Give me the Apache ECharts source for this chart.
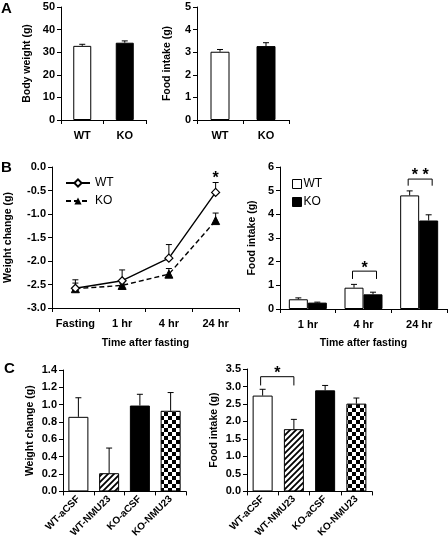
<!DOCTYPE html>
<html><head><meta charset="utf-8">
<script src="https://cdn.jsdelivr.net/npm/echarts@6/dist/echarts.min.js"></script>
<style>html,body{margin:0;padding:0;background:#fff}#c{width:448px;height:540px}</style>
</head><body><div id="c"></div>
<script>
// ---------- data ----------
const catA = ['WT', 'KO'];
const bodyWeight = [32.8, 34.2];
const bodyWeightErr = [0.7, 0.8];
const foodA = [3.02, 3.27];
const foodAErr = [0.1, 0.15];

const catBLine = ['Fasting', '1 hr', '4 hr', '24 hr'];
const wtChange = [-2.58, -2.42, -1.94, -0.54];
const wtChangeErr = [0.18, 0.23, 0.29, 0.21];
const koChange = [-2.59, -2.52, -2.28, -1.14];
const koChangeErr = [0.12, 0.05, 0.12, 0.16];
const sigBLine = [[3, -0.19, '*']];

const catBBar = ['1 hr', '4 hr', '24 hr'];
const wtFood = [0.41, 0.90, 4.80];
const wtFoodErr = [0.06, 0.14, 0.19];
const koFood = [0.27, 0.62, 3.74];
const koFoodErr = [0.02, 0.09, 0.24];
const sigBBar = [[1, 1.60, 1.27, '*'], [2, 5.49, 5.21, '* *']];

const catC = ['WT-aCSF', 'WT-NMU23', 'KO-aCSF', 'KO-NMU23'];
const weightC = [0.86, 0.21, 0.99, 0.93];
const weightCErr = [0.22, 0.29, 0.13, 0.21];
const foodC = [2.74, 1.78, 2.89, 2.51];
const foodCErr = [0.18, 0.28, 0.14, 0.16];
const sigC = [[0, 1, 3.28, 3.03, '*']];

// ---------- styles ----------
const FONT = '"Liberation Sans", Arial, sans-serif';
const BLACK = '#000';

function hatchPattern() {
  const c = document.createElement('canvas'); c.width = 6; c.height = 6;
  const g = c.getContext('2d');
  g.fillStyle = '#fff'; g.fillRect(0, 0, 6, 6);
  g.strokeStyle = '#000'; g.lineWidth = 1.8;
  g.beginPath();
  g.moveTo(-1, 7); g.lineTo(7, -1);
  g.moveTo(-4, 4); g.lineTo(4, -4);
  g.moveTo(2, 10); g.lineTo(10, 2);
  g.stroke();
  return {image: c, repeat: 'repeat'};
}
function checkPattern() {
  const c = document.createElement('canvas'); c.width = 8; c.height = 8;
  const g = c.getContext('2d');
  g.fillStyle = '#fff'; g.fillRect(0, 0, 8, 8);
  g.fillStyle = '#000'; g.fillRect(0, 0, 4, 4); g.fillRect(4, 4, 4, 4);
  return {image: c, repeat: 'repeat'};
}
const fills4 = ['#fff', hatchPattern(), '#000', checkPattern()];

const chart = echarts.init(document.getElementById('c'), null, {renderer: 'canvas'});

const axisLineS = {show: true, onZero: false, lineStyle: {color: BLACK, width: 1}};
const tickS = {show: true, length: 4, lineStyle: {color: BLACK, width: 1}};
const lblS = {color: BLACK, fontFamily: FONT, fontWeight: 'bold', fontSize: 11};
const nameS = {color: BLACK, fontFamily: FONT, fontWeight: 'bold', fontSize: 10.5};

function xCat(grid, data, extra) {
  return Object.assign({
    type: 'category', gridIndex: grid, data: data,
    axisLine: axisLineS, axisTick: tickS,
    axisLabel: Object.assign({}, lblS, {margin: 10, interval: 0}),
    splitLine: {show: false}
  }, extra || {});
}
function yVal(grid, min, max, interval, name, gap, dec) {
  return {
    type: 'value', gridIndex: grid, min: min, max: max, interval: interval,
    name: name, nameLocation: 'middle', nameGap: gap, nameRotate: 90, nameTextStyle: nameS,
    axisLine: axisLineS, axisTick: tickS,
    axisLabel: Object.assign({}, lblS, {margin: 6, formatter: v => v.toFixed(dec)}),
    splitLine: {show: false}
  };
}

function errSeries(xi, vals, errs, offset) {
  return {
    type: 'custom', xAxisIndex: xi, yAxisIndex: xi, z: 3, silent: true,
    data: vals.map((v, i) => [i, v, errs[i]]),
    renderItem: function (params, api) {
      const p0 = api.coord([api.value(0), api.value(1)]);
      const p1 = api.coord([api.value(0), api.value(1) + api.value(2)]);
      const cx = p0[0] + (offset || 0);
      return {type: 'group', children: [
        {type: 'line', shape: {x1: cx, y1: p0[1], x2: cx, y2: p1[1]}, style: {stroke: BLACK, lineWidth: 1}},
        {type: 'line', shape: {x1: cx - 3, y1: p1[1], x2: cx + 3, y2: p1[1]}, style: {stroke: BLACK, lineWidth: 1}}
      ]};
    }
  };
}
function starText(x, y, t) {
  return {type: 'text', style: {text: t, x: x, y: y, align: 'center', verticalAlign: 'middle',
    fontSize: 16, fontWeight: 'bold', fontFamily: FONT, fill: BLACK}};
}
function bracketShape(x1, x2, yTop, yBot, t) {
  return [
    {type: 'polyline', shape: {points: [[x1, yBot], [x1, yTop], [x2, yTop], [x2, yBot]]},
      style: {stroke: BLACK, lineWidth: 1, fill: null}},
    starText((x1 + x2) / 2, yTop - 3, t)
  ];
}

const option = {
  animation: false,
  backgroundColor: '#fff',
  textStyle: {fontFamily: FONT},
  grid: [
    {left: 61, top: 7, width: 85, height: 113},
    {left: 197, top: 7, width: 92, height: 113},
    {left: 52, top: 167, width: 187, height: 141},
    {left: 280, top: 167, width: 167, height: 142},
    {left: 63, top: 370, width: 123, height: 122},
    {left: 247, top: 369, width: 125, height: 126}
  ],
  xAxis: [
    xCat(0, catA),
    xCat(1, catA),
    xCat(2, catBLine, {name: 'Time after fasting', nameLocation: 'middle', nameGap: 30, nameTextStyle: nameS}),
    xCat(3, catBBar, {name: 'Time after fasting', nameLocation: 'middle', nameGap: 29, nameTextStyle: nameS}),
    xCat(4, catC, {axisLabel: Object.assign({}, lblS, {fontSize: 10, rotate: 45, margin: 6, interval: 0})}),
    xCat(5, catC, {axisLabel: Object.assign({}, lblS, {fontSize: 10, rotate: 45, margin: 6, interval: 0})})
  ],
  yAxis: [
    yVal(0, 0, 50, 10, 'Body weight (g)', 28, 0),
    yVal(1, 0, 5, 1, 'Food intake (g)', 24, 0),
    yVal(2, -3, 0, 0.5, 'Weight change (g)', 38, 1),
    yVal(3, 0, 6, 1, 'Food intake (g)', 22, 0),
    yVal(4, 0, 1.4, 0.2, 'Weight change (g)', 27, 1),
    yVal(5, 0, 3.5, 0.5, 'Food intake (g)', 27, 1)
  ],
  legend: [
    {orient: 'vertical', left: 60, top: 172, itemWidth: 24, itemHeight: 9, itemGap: 6,
      data: ['WT', 'KO'], textStyle: {fontSize: 12, fontFamily: FONT, color: BLACK}},
    {orient: 'vertical', left: 287, top: 173, itemWidth: 9, itemHeight: 9, itemGap: 6, icon: 'rect',
      itemStyle: {borderColor: BLACK, borderWidth: 1, borderJoin: 'miter'},
      data: ['WT bar', 'KO bar'], formatter: n => n.split(' ')[0],
      textStyle: {fontSize: 12, fontFamily: FONT, color: BLACK, padding: [0, 0, 0, -3]}}
  ],
  graphic: [
    {type: 'text', left: 1, top: 1, style: {text: 'A', font: 'bold 15px ' + FONT, fill: BLACK}},
    {type: 'text', left: 1, top: 160, style: {text: 'B', font: 'bold 15px ' + FONT, fill: BLACK}},
    {type: 'text', left: 4, top: 361, style: {text: 'C', font: 'bold 15px ' + FONT, fill: BLACK}}
  ],
  series: [
    // A left
    {type: 'bar', xAxisIndex: 0, yAxisIndex: 0, barWidth: 18,
      data: bodyWeight.map((v, i) => ({value: v, itemStyle: {color: i ? '#000' : '#fff', borderColor: BLACK, borderWidth: 1}}))},
    errSeries(0, bodyWeight, bodyWeightErr, 0),
    // A right
    {type: 'bar', xAxisIndex: 1, yAxisIndex: 1, barWidth: 19,
      data: foodA.map((v, i) => ({value: v, itemStyle: {color: i ? '#000' : '#fff', borderColor: BLACK, borderWidth: 1}}))},
    errSeries(1, foodA, foodAErr, 0),
    // B left
    errSeries(2, wtChange, wtChangeErr, 0),
    errSeries(2, koChange, koChangeErr, 0),
    {type: 'line', name: 'KO', xAxisIndex: 2, yAxisIndex: 2, data: koChange, z: 4,
      symbol: 'triangle', symbolSize: 8, lineStyle: {color: BLACK, width: 1.4, type: [5, 3]},
      itemStyle: {color: BLACK, borderColor: BLACK}},
    {type: 'line', name: 'WT', xAxisIndex: 2, yAxisIndex: 2, data: wtChange, z: 5,
      symbol: 'diamond', symbolSize: 8, lineStyle: {color: BLACK, width: 1.4},
      itemStyle: {color: '#fff', borderColor: BLACK, borderWidth: 1.2}},
    {type: 'custom', xAxisIndex: 2, yAxisIndex: 2, silent: true, data: sigBLine,
      renderItem: function (p, api) {
        const pt = api.coord([api.value(0), api.value(1)]);
        return starText(pt[0], pt[1] + 3, sigBLine[p.dataIndex][2]);
      }},
    // B right
    {type: 'bar', name: 'WT bar', xAxisIndex: 3, yAxisIndex: 3, barWidth: 19, barGap: '0%', data: wtFood,
      itemStyle: {color: '#fff', borderColor: BLACK, borderWidth: 1}},
    {type: 'bar', name: 'KO bar', xAxisIndex: 3, yAxisIndex: 3, barWidth: 19, barGap: '0%', data: koFood,
      itemStyle: {color: '#000', borderColor: BLACK, borderWidth: 1}},
    errSeries(3, wtFood, wtFoodErr, -9.5),
    errSeries(3, koFood, koFoodErr, 9.5),
    {type: 'custom', xAxisIndex: 3, yAxisIndex: 3, silent: true, data: sigBBar,
      renderItem: function (p, api) {
        const a = api.coord([api.value(0), api.value(1)]);
        const b = api.coord([api.value(0), api.value(2)]);
        return {type: 'group', children: bracketShape(a[0] - 11, a[0] + 13, a[1], b[1], sigBBar[p.dataIndex][3])};
      }},
    // C left
    {type: 'bar', xAxisIndex: 4, yAxisIndex: 4, barWidth: 20,
      data: weightC.map((v, i) => ({value: v, itemStyle: {color: fills4[i], borderColor: BLACK, borderWidth: 1}}))},
    errSeries(4, weightC, weightCErr, 0),
    // C right
    {type: 'bar', xAxisIndex: 5, yAxisIndex: 5, barWidth: 20,
      data: foodC.map((v, i) => ({value: v, itemStyle: {color: fills4[i], borderColor: BLACK, borderWidth: 1}}))},
    errSeries(5, foodC, foodCErr, 0),
    {type: 'custom', xAxisIndex: 5, yAxisIndex: 5, silent: true, data: sigC,
      renderItem: function (p, api) {
        const a = api.coord([api.value(0), api.value(2)]);
        const b = api.coord([api.value(1), api.value(3)]);
        return {type: 'group', children: bracketShape(a[0] - 2, b[0], a[1], b[1], sigC[p.dataIndex][4])};
      }}
  ]
};
chart.setOption(option);
</script></body></html>
